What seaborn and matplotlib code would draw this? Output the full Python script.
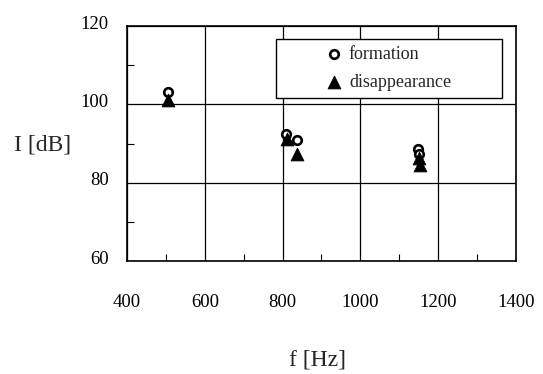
import matplotlib
matplotlib.use("Agg")
import matplotlib.pyplot as plt
import matplotlib.transforms as mtransforms
from matplotlib.patches import Rectangle
from matplotlib.ticker import MultipleLocator
import seaborn as sns

# values
formation_f = [505, 810, 836, 1148, 1151]
formation_I = [103.1, 92.5, 90.9, 88.6, 87.3]
disappear_f = [506, 811, 837, 1151, 1154]
disappear_I = [101.1, 91.3, 87.4, 86.3, 84.6]

x_ticks = [400, 600, 800, 1000, 1200, 1400]
y_ticks = [60, 80, 100, 120]

sns.set_style("white")
plt.rcParams['font.family'] = ['Liberation Serif', 'DejaVu Serif']

fig = plt.figure(figsize=(5.43, 3.74), dpi=100)
ax = fig.add_axes([0.234, 0.302, 0.716, 0.628])

sns.scatterplot(x=formation_f, y=formation_I, marker='o', s=38,
                facecolor='white', edgecolor='black', linewidth=1.9,
                label='formation', ax=ax, zorder=3)
sns.scatterplot(x=disappear_f, y=disappear_I, marker='^', s=85,
                color='black', edgecolor='black', linewidth=0.6,
                label='disappearance', ax=ax, zorder=4)

ax.set_xlim(400, 1400)
ax.set_ylim(60, 120)
ax.set_xticks(x_ticks)
ax.set_yticks(y_ticks)
ax.xaxis.set_minor_locator(MultipleLocator(100))
ax.yaxis.set_minor_locator(MultipleLocator(10))
ax.tick_params(which='major', length=0, labelsize=13.5, colors='black')
ax.tick_params(axis='x', which='major', pad=24)
ax.tick_params(axis='y', which='major', pad=13)
ax.tick_params(which='minor', direction='in', length=5, width=0.8,
               color='black', bottom=True, left=True)
ax.grid(which='major', color='black', linewidth=0.9)
ax.set_axisbelow(True)
for s in ax.spines.values():
    s.set_color('black')
    s.set_linewidth(1.2)

# y tick labels sit a little above their grid lines in the original
off = mtransforms.ScaledTranslation(0, 0.04, fig.dpi_scale_trans)
for lab in ax.get_yticklabels():
    lab.set_transform(lab.get_transform() + off)

ax.set_ylabel('I [dB]', rotation=0, fontsize=17, ha='center', va='center')
ax.yaxis.set_label_coords(-0.218, 0.494)
ax.set_xlabel('f [Hz]', fontsize=17, va='center')
ax.xaxis.set_label_coords(0.49, -0.421)

# legend box
ax.add_patch(Rectangle((0.383, 0.694), 0.581, 0.251, transform=ax.transAxes,
                       facecolor='white', edgecolor='black', linewidth=1.0,
                       zorder=5))
leg = ax.legend(loc='center left', bbox_to_anchor=(0.487, 0.82), frameon=False,
                fontsize=13, handlelength=1.0, handletextpad=0.3,
                labelspacing=0.6, borderpad=0, scatterpoints=1)
leg.set_zorder(6)

fig.savefig("out.png", dpi=100)
